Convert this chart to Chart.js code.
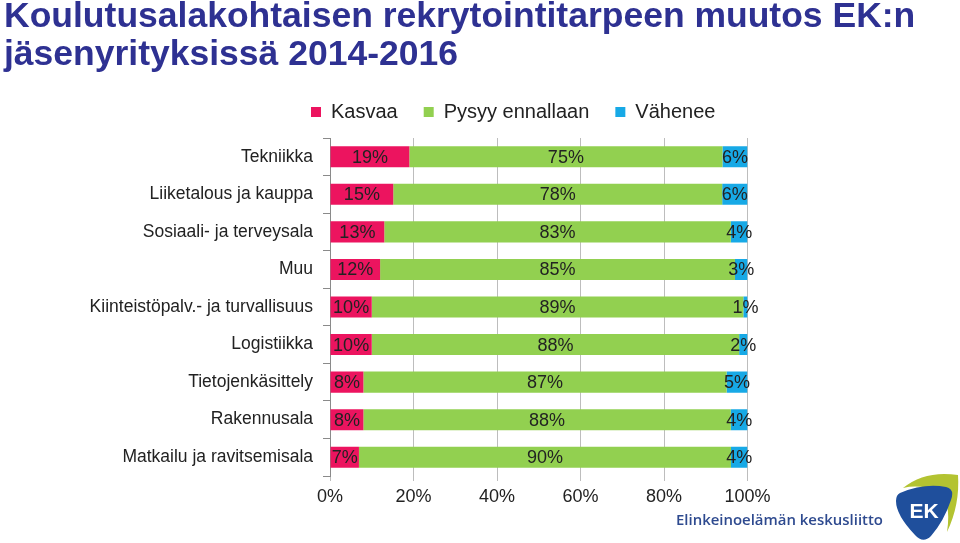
<!DOCTYPE html>
<html><head><meta charset="utf-8">
<script src="https://cdn.jsdelivr.net/npm/chart.js@4/dist/chart.umd.min.js"></script>
<style>html,body{margin:0;padding:0;background:#fff}canvas{display:block}</style>
</head><body>
<canvas id="c" width="960" height="543"></canvas>
<script>
const titleLines = ['Koulutusalakohtaisen rekrytointitarpeen muutos EK:n', 'jäsenyrityksissä 2014-2016'];
const categories = ['Tekniikka', 'Liiketalous ja kauppa', 'Sosiaali- ja terveysala', 'Muu',
  'Kiinteistöpalv.- ja turvallisuus', 'Logistiikka', 'Tietojenkäsittely', 'Rakennusala', 'Matkailu ja ravitsemisala'];
const seriesNames = ['Kasvaa', 'Pysyy ennallaan', 'Vähenee'];
const kasvaa  = [19, 15, 13, 12, 10, 10, 8, 8, 7];
const pysyy   = [75, 78, 83, 85, 89, 88, 87, 88, 90];
const vahenee = [6, 6, 4, 3, 1, 2, 5, 4, 4];
const xTicks = [0, 20, 40, 60, 80, 100];
const logoText = 'Elinkeinoelämän keskusliitto';

const colors = ['#ec145f', '#92d050', '#17a9e6'];
const FONT = '"Liberation Sans", Arial, Helvetica, sans-serif';
const rows = [kasvaa, pysyy, vahenee];
// 100% stacked: each row is shown as share of its row total
const totals = categories.map((_, i) => kasvaa[i] + pysyy[i] + vahenee[i]);
const datasets = rows.map((vals, k) => ({
  label: seriesNames[k],
  data: vals.map((v, i) => v / totals[i] * 100),
  rawValues: vals,
  backgroundColor: colors[k],
  borderWidth: 0,
  barPercentage: 0.56,
  categoryPercentage: 1
}));

const barLabels = {
  id: 'barLabels',
  afterDatasetsDraw(chart) {
    const ctx = chart.ctx;
    ctx.save();
    ctx.font = '18px ' + FONT;
    ctx.fillStyle = '#222';
    ctx.textAlign = 'center';
    ctx.textBaseline = 'middle';
    chart.data.datasets.forEach((ds, di) => {
      chart.getDatasetMeta(di).data.forEach((el, i) => {
        const p = el.getProps(['x', 'base', 'y'], true);
        ctx.fillText(ds.rawValues[i] + '%', (p.x + p.base) / 2, p.y + 1);
      });
    });
    ctx.restore();
  }
};

const shiftBlocks = {
  id: 'shiftBlocks',
  afterLayout(chart) {
    const t = chart.titleBlock;
    if (t) { t.left = 4; t.right = 958; }
    const l = chart.legend;
    if (l) {
      const lw = l.lineWidths[0];
      const pad = l.options.labels.padding;
      // place first legend box at x = 311
      const start = 311;
      const curStart = (l.left + pad + l.right - lw) / 2;
      const d = start - curStart;
      l.left += d; l.right += d; l.top -= 6; l.bottom -= 6;
    }
  }
};

const logo = {
  id: 'logo',
  afterDraw(chart) {
    const ctx = chart.ctx;
    ctx.save();
    ctx.beginPath();
    ctx.moveTo(903, 488);
    ctx.quadraticCurveTo(925, 470, 958, 475);
    ctx.quadraticCurveTo(960, 505, 947, 532);
    ctx.quadraticCurveTo(952, 500, 937, 491);
    ctx.quadraticCurveTo(920, 484, 903, 488);
    ctx.closePath();
    ctx.fillStyle = '#b3c331';
    ctx.fill();
    ctx.beginPath();
    ctx.moveTo(900, 493);
    ctx.quadraticCurveTo(924, 483, 946, 487);
    ctx.quadraticCurveTo(955, 489, 951, 500);
    ctx.quadraticCurveTo(944, 521, 931, 536);
    ctx.quadraticCurveTo(923, 544, 915, 535);
    ctx.quadraticCurveTo(896, 515, 896, 501);
    ctx.quadraticCurveTo(896, 495, 900, 493);
    ctx.closePath();
    ctx.fillStyle = '#1f4f9c';
    ctx.fill();
    ctx.fillStyle = '#fff';
    ctx.font = 'bold 21px ' + FONT;
    ctx.textAlign = 'center';
    ctx.textBaseline = 'middle';
    ctx.fillText('EK', 924, 512);
    ctx.fillStyle = '#2e4a8f';
    ctx.textAlign = 'left';
    let size = 17;
    ctx.font = '600 ' + size + 'px "Open Sans", ' + FONT;
    const w = ctx.measureText(logoText).width;
    size = size * 207 / w;
    ctx.font = '600 ' + size.toFixed(2) + 'px "Open Sans", ' + FONT;
    ctx.fillText(logoText, 676, 521);
    ctx.restore();
  }
};

new Chart(document.getElementById('c'), {
  type: 'bar',
  data: { labels: categories, datasets },
  plugins: [barLabels, shiftBlocks, logo],
  options: {
    indexAxis: 'y',
    responsive: false,
    animation: false,
    devicePixelRatio: 1,
    layout: { padding: { left: 0, right: 212.5, top: 0, bottom: 30.4 } },
    plugins: {
      tooltip: { enabled: false },
      title: {
        display: true,
        text: titleLines,
        align: 'start',
        color: '#2e3192',
        font: { family: FONT, size: 35.5, weight: 'bold', lineHeight: 38 / 35.5 },
        padding: { top: -2, bottom: 8 }
      },
      legend: {
        position: 'top',
        align: 'center',
        labels: {
          boxWidth: 10, boxHeight: 10, padding: 26,
          color: '#222',
          font: { family: FONT, size: 20 }
        }
      }
    },
    scales: {
      x: {
        stacked: true,
        min: 0, max: 100,
        afterBuildTicks: s => { s.ticks = xTicks.map(v => ({ value: v })); },
        ticks: { callback: v => v + '%', color: '#222', padding: 5, maxRotation: 0, autoSkip: false,
          font: { family: FONT, size: 18 } },
        grid: { color: '#bdbdbd', tickLength: 5, lineWidth: 1 },
        border: { display: false }
      },
      y: {
        stacked: true,
        afterFit: s => { s.width = 330; },
        ticks: { color: '#222', padding: 10, autoSkip: false, font: { family: FONT, size: 17.5 } },
        grid: { drawOnChartArea: false, tickLength: 7, color: '#8a8a8a', offset: true },
        border: { display: true, color: '#8a8a8a' }
      }
    }
  }
});
</script>
</body></html>
